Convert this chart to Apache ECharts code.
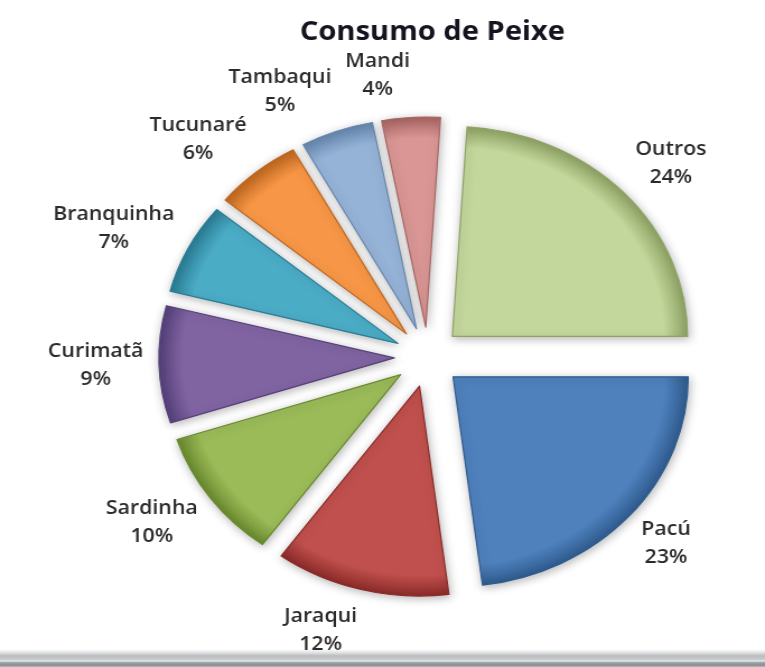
<!DOCTYPE html>
<html>
<head>
<meta charset="utf-8">
<script src="https://cdn.jsdelivr.net/npm/echarts@6/dist/echarts.min.js"></script>
<style>
  html, body { margin: 0; padding: 0; background: #ffffff; overflow: hidden; }
  #wrap { width: 765px; height: 667px; overflow: hidden; position: relative; }
  #main { width: 683px; height: 667px; transform: scaleX(1.12); transform-origin: 0 0; }
</style>
</head>
<body>
<div id="wrap"><div id="main"></div></div>
<script>
// ---- data ----
const titleText = 'Consumo de Peixe';
const categories = ['Outros', 'Pacú', 'Jaraqui', 'Sardinha', 'Curimatã', 'Branquinha', 'Tucunaré', 'Tambaqui', 'Mandi'];
const values = [24, 23, 12, 10, 9, 7, 6, 5, 4];

// ---- styles ----
const sliceColors = ['#C3D69B', '#4F81BD', '#C0504D', '#9BBB59', '#8064A2', '#4BACC6', '#F79646', '#95B3D7', '#D99694'];
const rimColors   = ['#8FA365', '#2F5C8F', '#8C2B29', '#6A8A2E', '#55407A', '#2A7D95', '#C0681F', '#6686AE', '#A86563'];

const CX = 382, CY = 357, R = 210;
const START_ANGLE = 86.4;      // echarts convention (90 = 12 o'clock)
const LABEL_HALF_H = 28;       // half the height of a two-line label

const chart = echarts.init(document.getElementById('main'), null, { renderer: 'canvas' });

// vertical component of each slice's bisector, from the data
const total = values.reduce((a, b) => a + b, 0);
const bisectorDy = [];
(function () {
  let cum = 0;
  values.forEach(v => {
    const thetaDeg = (90 - START_ANGLE) + 360 * (cum + v / 2) / total; // clockwise from top
    bisectorDy.push(-Math.cos(thetaDeg * Math.PI / 180));
    cum += v;
  });
})();

function sliceStyle(i) {
  return {
    color: {
      type: 'radial', x: CX, y: CY, r: R, global: true,
      colorStops: [
        { offset: 0, color: sliceColors[i] },
        { offset: 0.9, color: sliceColors[i] },
        { offset: 1, color: rimColors[i] }
      ]
    },
    borderColor: rimColors[i],
    borderWidth: 1.2,
    shadowBlur: 8,
    shadowColor: 'rgba(0,0,0,0.28)',
    shadowOffsetX: 1,
    shadowOffsetY: 2
  };
}

const pieData = categories.map((name, i) => ({
  name: name,
  value: values[i],
  selected: true,
  itemStyle: sliceStyle(i),
  select: { itemStyle: sliceStyle(i) }
}));

chart.setOption({
  animation: false,
  backgroundColor: '#ffffff',
  graphic: [
    {
      type: 'text',
      x: 386, y: 33,
      style: {
        text: titleText,
        font: 'bold 26px "Open Sans", sans-serif',
        fill: '#141420',
        textAlign: 'center',
        textVerticalAlign: 'middle'
      }
    },
    {
      type: 'rect',
      shape: { x: 0, y: 650, width: 683, height: 17 },
      style: {
        fill: {
          type: 'linear', x: 0, y: 0, x2: 0, y2: 1,
          colorStops: [
            { offset: 0, color: '#f6f6f6' },
            { offset: 0.15, color: '#e2e3e4' },
            { offset: 0.35, color: '#b9bdc1' },
            { offset: 0.55, color: '#c8cbce' },
            { offset: 0.65, color: '#e5e6e7' },
            { offset: 0.75, color: '#9a9fa5' },
            { offset: 0.9, color: '#8a9098' },
            { offset: 1, color: '#b8bcc0' }
          ]
        }
      },
      silent: true
    }
  ],
  series: [{
    type: 'pie',
    center: [CX, CY],
    radius: [0, R],
    startAngle: START_ANGLE,
    clockwise: true,
    selectedMode: 'multiple',
    selectedOffset: 30,
    avoidLabelOverlap: false,
    minShowLabelAngle: 0,
    percentPrecision: 0,
    emphasis: { disabled: true },
    labelLayout: function (p) {
      return { hideOverlap: false, dy: bisectorDy[p.dataIndex] * LABEL_HALF_H };
    },
    label: {
      show: true,
      position: 'outside',
      distanceToLabelLine: 0,
      formatter: '{t|{b}}\n{t|{d}%}',
      rich: {
        t: {
          align: 'center',
          fontFamily: '"Open Sans", sans-serif',
          fontWeight: 600,
          fontSize: 19,
          lineHeight: 28,
          color: '#2b2b2b'
        }
      }
    },
    labelLine: { show: false, length: 14, length2: 0 },
    data: pieData
  }]
});
</script>
</body>
</html>
